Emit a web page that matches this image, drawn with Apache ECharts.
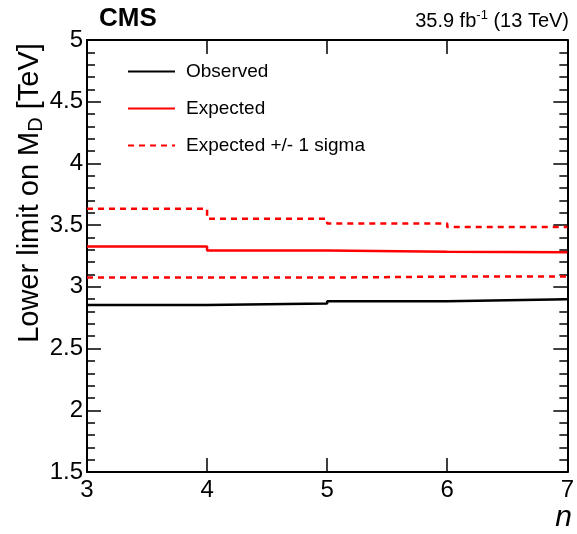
<!DOCTYPE html>
<html><head><meta charset="utf-8">
<script src="https://cdn.jsdelivr.net/npm/echarts@6/dist/echarts.min.js"></script>
<style>html,body{margin:0;padding:0;background:#fff}#c{width:577px;height:534px}</style>
</head><body><div id="c"></div>
<script>
const nValues = [3, 4, 5, 6, 7];
const observed = [2.853, 2.866, 2.884, 2.900];
const expected = [3.327, 3.294, 3.284, 3.280];
const expectedUp = [3.632, 3.551, 3.513, 3.484];
const expectedDown = [3.075, 3.075, 3.083, 3.083];

// histogram-style steps: bin [n_i, n_{i+1}] has value vals[i]
function steps(vals) {
  const d = [];
  vals.forEach((v, i) => { d.push([nValues[i], v]); d.push([nValues[i + 1], v]); });
  return d;
}
const FONT = 'Liberation Sans, Arial, sans-serif';
const chart = echarts.init(document.getElementById('c'));
const axisLine = {show: true, lineStyle: {color: '#000', width: 2}};
const tick = {inside: true, length: 14, lineStyle: {color: '#000', width: 1.5}};
const minor = {show: true, splitNumber: 5, length: 8, lineStyle: {color: '#000', width: 1.5}};
chart.setOption({
  animation: false,
  grid: {left: 87, right: 8, top: 40, bottom: 62},
  legend: {
    orient: 'vertical', left: 127, top: 62, padding: 0, itemWidth: 47, itemHeight: 14, itemGap: 18,
    itemStyle: {opacity: 0},
    textStyle: {fontFamily: FONT, fontSize: 19, color: '#000', padding: [0, 0, 0, 6]},
    data: ['Observed', 'Expected', 'Expected +/- 1 sigma']
  },
  xAxis: [{
    type: 'value', min: 3, max: 7, interval: 1,
    axisLine, axisTick: tick,
    axisLabel: {fontFamily: FONT, fontSize: 24, color: '#000', margin: 6},
    splitLine: {show: false}
  }, {
    type: 'value', position: 'top', min: 3, max: 7, interval: 1,
    axisLine, axisTick: tick,
    axisLabel: {show: false}, splitLine: {show: false}
  }],
  yAxis: [{
    type: 'value', min: 1.5, max: 5, interval: 0.5,
    axisLine, axisTick: tick, minorTick: minor,
    axisLabel: {fontFamily: FONT, fontSize: 24, color: '#000', margin: 4},
    splitLine: {show: false}, minorSplitLine: {show: false}
  }, {
    type: 'value', position: 'right', min: 1.5, max: 5, interval: 0.5,
    axisLine, axisTick: tick, minorTick: minor,
    axisLabel: {show: false}, splitLine: {show: false}
  }],
  series: [
    {name: 'Expected +/- 1 sigma', type: 'line', data: steps(expectedUp), symbol: 'none',
     itemStyle: {color: '#ff0000'}, lineStyle: {color: '#ff0000', width: 2.5, type: [6, 5]}},
    {name: 'Expected +/- 1 sigma', type: 'line', data: steps(expectedDown), symbol: 'none',
     itemStyle: {color: '#ff0000'}, lineStyle: {color: '#ff0000', width: 2.5, type: [6, 5]}},
    {name: 'Expected', type: 'line', data: steps(expected), symbol: 'none',
     itemStyle: {color: '#ff0000'}, lineStyle: {color: '#ff0000', width: 2.5}},
    {name: 'Observed', type: 'line', data: steps(observed), symbol: 'none',
     itemStyle: {color: '#000'}, lineStyle: {color: '#000', width: 2.5}}
  ],
  graphic: [
    {type: 'text', left: 99, top: 6, style: {text: 'CMS', fontFamily: FONT, fontWeight: 'bold', fontSize: 26, fill: '#000'}},
    {type: 'text', right: 8, top: 9, style: {
      text: '{a|35.9 fb}{s|-1}{a| (13 TeV)}', fill: '#000',
      rich: {a: {fontFamily: FONT, fontSize: 20, fill: '#000', verticalAlign: 'bottom'},
             s: {fontFamily: FONT, fontSize: 13, fill: '#000', verticalAlign: 'top', padding: [0, 0, 9, 0]}}
    }},
    {type: 'text', x: 30, y: 193, rotation: Math.PI / 2, style: {
      text: '{a|Lower limit on M}{s|D}{a| [TeV]}', align: 'center', verticalAlign: 'middle', fill: '#000',
      rich: {a: {fontFamily: FONT, fontSize: 29, fill: '#000'},
             s: {fontFamily: FONT, fontSize: 20, fill: '#000', padding: [12, 0, 0, 0]}}
    }},
    {type: 'text', right: 5, top: 503, style: {text: 'n', fontFamily: FONT, fontStyle: 'italic', fontSize: 30, fill: '#000'}}
  ]
});
</script></body></html>
